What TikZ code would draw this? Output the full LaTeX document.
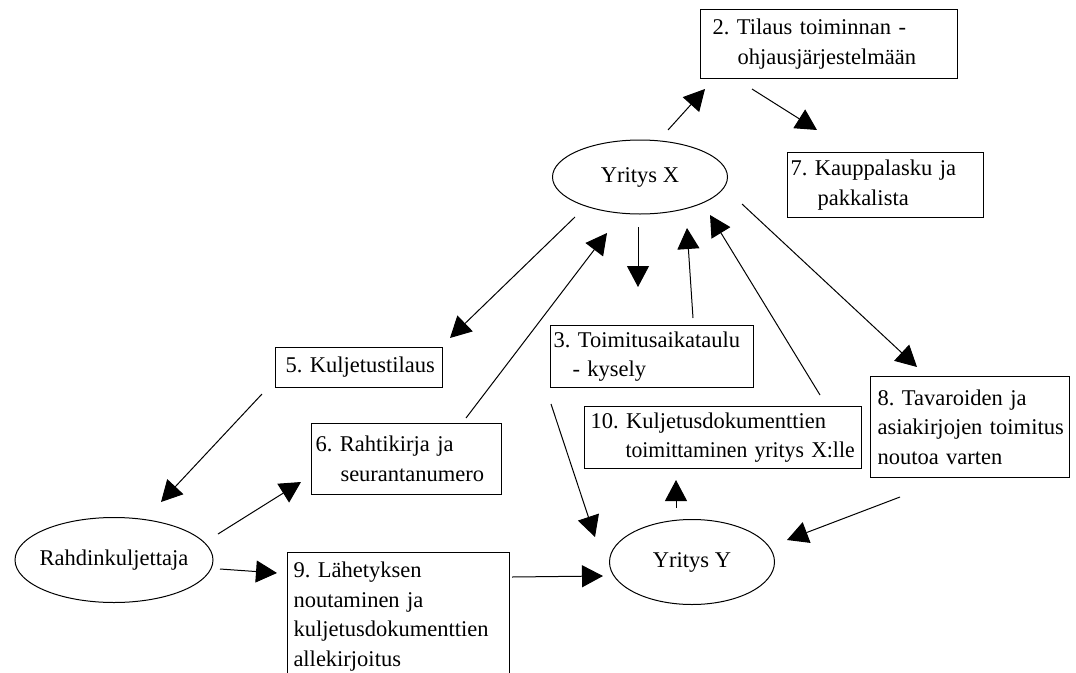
\documentclass[tikz,border=0pt]{standalone}
\usepackage{fontspec}
\usepackage{graphicx}
\setmainfont{Liberation Serif}
\usetikzlibrary{arrows.meta,shapes.geometric}

\tikzset{
  txt/.style={font=\fontsize{22.5}{29.5}\selectfont\frenchspacing},
  box/.style={txt, draw, line width=1pt, anchor=north west, inner xsep=0pt,
    inner ysep=0pt, align=left},
  oval/.style={txt, draw, ellipse, line width=1pt, inner sep=0pt},
  flow/.style={line width=1pt, -{Triangle[length=21pt,width=22pt]}}
}
% one line of box text, starting #1 pt from the box's left edge
\newcommand{\bl}[2]{\makebox[0pt][l]{\hspace*{#1pt}#2}}

\begin{document}
\begin{tikzpicture}[x=1pt,y=-1pt]
\useasboundingbox (0,0) rectangle (1076,672);
\clip (0,0) rectangle (1076,672);

% parties
\node[oval, minimum width=175pt, minimum height=74pt] (yx) at (640,177)
  {\makebox[0pt]{Yritys X}};
\node[oval, minimum width=165pt, minimum height=85pt] (yy) at (692,562)
  {\makebox[0pt]{Yritys Y}};
\node[oval, minimum width=198pt, minimum height=85pt] (rk) at (114,560)
  {\makebox[0pt]{Rahdinkuljettaja}};

% steps
\node[box, text width=257pt, minimum height=69pt] (b2) at (700,9)
  {\bl{12}{2. Tilaus toiminnan -}\\\bl{37}{ohjausjärjestelmään}};
\node[box, text width=196pt, minimum height=65pt] (b7) at (787,152)
  {\bl{3}{7. Kauppalasku ja}\\\bl{30}{pakkalista}};
\node[box, text width=167pt, minimum height=40pt] (b5) at (275,347)
  {\bl{10}{5. Kuljetustilaus}};
\node[box, text width=203pt, minimum height=62pt] (b3) at (550,325)
  {\bl{3}{3. Toimitusaikataulu}\\\bl{22}{- kysely}};
\node[box, text width=277pt, minimum height=62pt] (b10) at (584,406)
  {\bl{6}{10. Kuljetusdokumenttien}\\\bl{41}{\scalebox{0.965}[1]{toimittaminen yritys X:lle}}};
\node[box, text width=199pt, minimum height=101pt] (b8) at (870,376)
  {\bl{7}{8. Tavaroiden ja}\\\bl{7}{asiakirjojen toimitus}\\\bl{7}{noutoa varten}};
\node[box, text width=190pt, minimum height=71pt] (b6) at (311,423)
  {\bl{4}{6. Rahtikirja ja}\\\bl{29}{seurantanumero}};
\node[box, text width=222pt, minimum height=128pt] (b9) at (287,552)
  {\bl{6}{9. Lähetyksen}\\\bl{6}{noutaminen ja}\\\bl{6}{kuljetusdokumenttien}\\\bl{6}{allekirjoitus}};

% connector ends
\coordinate (yx-b2)  at (668,130); \coordinate (b2-in)  at (705,89);
\coordinate (b2-b7)  at (752,89);  \coordinate (b7-in)  at (817,130);
\coordinate (yx-b5)  at (575,217); \coordinate (b5-in)  at (450,338);
\coordinate (b6-yx)  at (466,418); \coordinate (yx-in6) at (607,233);
\coordinate (yx-b3)  at (638,227); \coordinate (b3-in)  at (638,287);
\coordinate (b3-yx)  at (693,318); \coordinate (yx-in3) at (687,228);
\coordinate (b10-yx) at (820,395); \coordinate (yx-in10) at (710,215);
\coordinate (yx-b8)  at (742,204); \coordinate (b8-in)  at (917,367);
\coordinate (b5-rk)  at (262,394); \coordinate (rk-in)  at (161,502);
\coordinate (rk-b6)  at (218,534); \coordinate (b6-in)  at (301,482);
\coordinate (rk-b9)  at (220,569); \coordinate (b9-in)  at (277,573);
\coordinate (b9-yy)  at (512,577); \coordinate (yy-in9) at (603,576);
\coordinate (b3-yy)  at (551,404); \coordinate (yy-in3) at (595,537);
\coordinate (yy-b10) at (676,508); \coordinate (b10-in) at (676,480);
\coordinate (b8-yy)  at (900,497); \coordinate (yy-in8) at (787,540);

% flows
\draw[flow] (yx-b2) -- (b2-in);
\draw[flow] (b2-b7) -- (b7-in);
\draw[flow] (yx-b5) -- (b5-in);
\draw[flow] (b6-yx) -- (yx-in6);
\draw[flow] (yx-b3) -- (b3-in);
\draw[flow] (b3-yx) -- (yx-in3);
\draw[flow] (b10-yx) -- (yx-in10);
\draw[flow] (yx-b8) -- (b8-in);
\draw[flow] (b5-rk) -- (rk-in);
\draw[flow] (rk-b6) -- (b6-in);
\draw[flow] (rk-b9) -- (b9-in);
\draw[flow] (b9-yy) -- (yy-in9);
\draw[flow] (b3-yy) -- (yy-in3);
\draw[flow] (yy-b10) -- (b10-in);
\draw[flow] (b8-yy) -- (yy-in8);
\end{tikzpicture}
\end{document}
